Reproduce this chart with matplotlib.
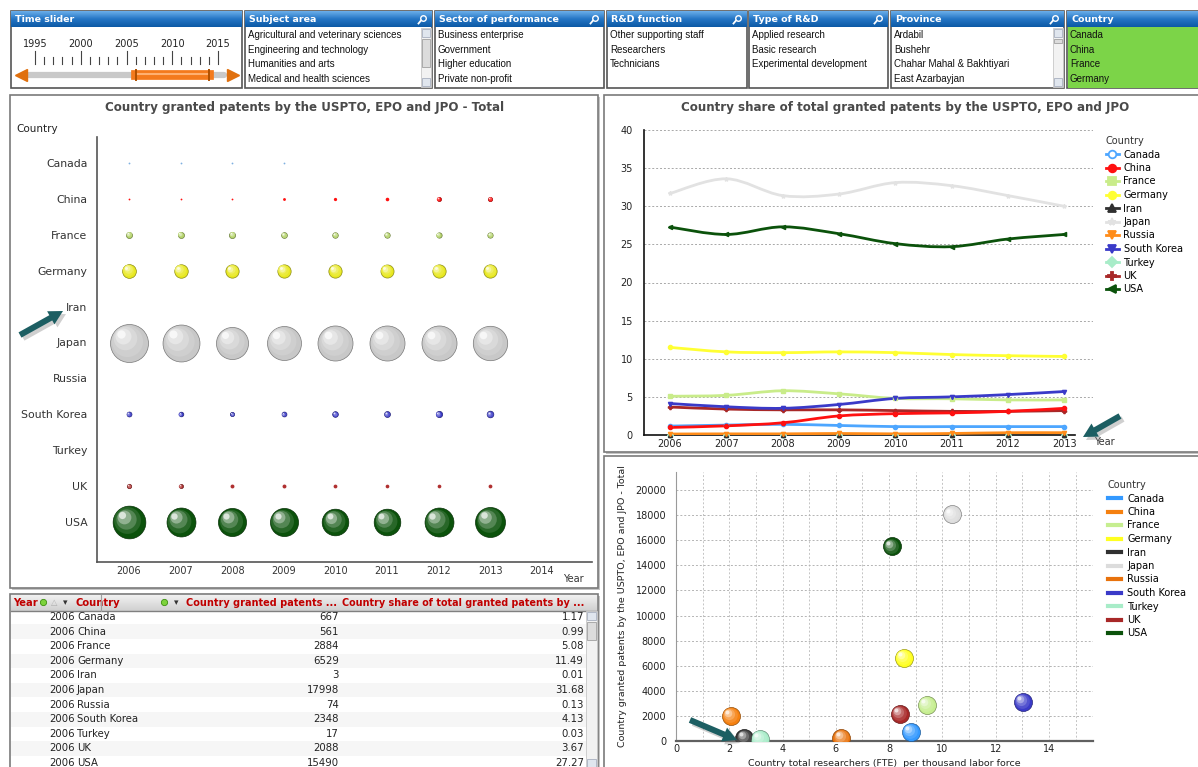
import numpy as np
import matplotlib
matplotlib.use("Agg")
import matplotlib.pyplot as plt
import matplotlib.colors as mcolors
import matplotlib.transforms as mtrans
from matplotlib.patches import Rectangle, FancyArrow, PathPatch
from matplotlib.path import Path
from matplotlib.lines import Line2D
from matplotlib.colors import LinearSegmentedColormap
from matplotlib.ticker import MultipleLocator

plt.rcParams["font.family"] = ["DejaVu Sans"]

W, H = 1198, 767
nan = np.nan

##### DATA
countries = ["Canada", "China", "France", "Germany", "Iran", "Japan",
             "Russia", "South Korea", "Turkey", "UK", "USA"]
years = [2006, 2007, 2008, 2009, 2010, 2011, 2012, 2013]
bubble_xticks = [2006, 2007, 2008, 2009, 2010, 2011, 2012, 2013, 2014]

# granted patents per year (bubble chart)
pat_canada = [667, 700, 760, 650, nan, nan, nan, nan]
pat_china = [561, 680, 850, 1350, 1550, 1700, 1950, 2050]
pat_france = [2884, 2850, 2950, 2750, 2650, 2600, 2550, 2550]
pat_germany = [6529, 6400, 6300, 6300, 6300, 6200, 6300, 6300]
pat_iran = [3, 4, 5, 6, 8, 10, 12, 15]
pat_japan = [17998, 17500, 15200, 16100, 16600, 16600, 16600, 16300]
pat_russia = [74, 80, 85, 100, 95, 110, 150, 160]
pat_korea = [2348, 2200, 2000, 2300, 2700, 2800, 3000, 3150]
pat_turkey = [17, 18, 22, 25, 28, 30, 35, 38]
pat_uk = [2088, 1950, 1850, 1850, 1800, 1750, 1750, 1800]
pat_usa = [15490, 13700, 13300, 13300, 12600, 12600, 13700, 14200]

# share of total granted patents (%) (line chart)
share_canada = [1.17, 1.3, 1.4, 1.25, 1.1, 1.1, 1.1, 1.1]
share_china = [0.99, 1.2, 1.6, 2.5, 2.8, 2.9, 3.1, 3.5]
share_france = [5.08, 5.2, 5.8, 5.4, 4.8, 4.75, 4.6, 4.6]
share_germany = [11.49, 10.9, 10.8, 10.9, 10.8, 10.55, 10.4, 10.3]
share_iran = [0.01, 0.01, 0.01, 0.01, 0.02, 0.02, 0.02, 0.03]
share_japan = [31.68, 33.6, 31.4, 31.6, 33.1, 32.7, 31.4, 30.0]
share_russia = [0.13, 0.15, 0.15, 0.2, 0.15, 0.2, 0.3, 0.3]
share_korea = [4.13, 3.7, 3.5, 4.0, 4.8, 5.0, 5.3, 5.7]
share_turkey = [0.03, 0.03, 0.04, 0.04, 0.05, 0.05, 0.06, 0.06]
share_uk = [3.67, 3.4, 3.3, 3.3, 3.2, 3.1, 3.1, 3.2]
share_usa = [27.27, 26.3, 27.3, 26.4, 25.1, 24.7, 25.7, 26.3]

# researchers vs patents (scatter)
researchers = [8.83, 2.05, 9.42, 8.56, 2.57, 10.37, 6.21, 13.02, 3.14, 8.42, 8.09]
scatter_patents = [720, 1980, 2900, 6600, 240, 18050, 240, 3120, 190, 2140, 15500]

# 2006 table
tab_share = [1.17, 0.99, 5.08, 11.49, 0.01, 31.68, 0.13, 4.13, 0.03, 3.67, 27.27]
tab_patents = [667, 561, 2884, 6529, 3, 17998, 74, 2348, 17, 2088, 15490]

# filter lists
filter_titles = ["Time slider", "Subject area", "Sector of performance",
                 "R&D function", "Type of R&D", "Province", "Country"]
subject_items = ["Agricultural and veterinary sciences", "Engineering and technology",
                 "Humanities and arts", "Medical and health sciences"]
sector_items = ["Business enterprise", "Government", "Higher education", "Private non-profit"]
function_items = ["Other supporting staff", "Researchers", "Technicians"]
type_items = ["Applied research", "Basic research", "Experimental development"]
province_items = ["Ardabil", "Bushehr", "Chahar Mahal & Bakhtiyari", "East Azarbayjan"]
country_items = ["Canada", "China", "France", "Germany"]
slider_years = [1995, 2000, 2005, 2010, 2015]
slider_sel = [2006, 2014]

pats = dict(zip(countries, [pat_canada, pat_china, pat_france, pat_germany, pat_iran,
                            pat_japan, pat_russia, pat_korea, pat_turkey, pat_uk, pat_usa]))
shares = dict(zip(countries, [share_canada, share_china, share_france, share_germany,
                              share_iran, share_japan, share_russia, share_korea,
                              share_turkey, share_uk, share_usa]))

col = {"Canada": "#4da6ff", "China": "#ff1010", "France": "#c9ec8a", "Germany": "#ffff33",
       "Iran": "#303030", "Japan": "#e2e2e2", "Russia": "#ff8c1a", "South Korea": "#3a3ac8",
       "Turkey": "#a8ecc8", "UK": "#a82828", "USA": "#0b520b"}
ball_col = dict(col, France="#b5d46a", Germany="#e8e820", Japan="#c8c8c8",
                Canada="#7fb0e0", UK="#b03030")
sc_col = dict(col, Canada="#3399ff", China="#f5800f", Russia="#e8720c",
              Japan="#dcdcdc", France="#c6ee90", Germany="#ffff20")
markers = {"Canada": "o", "China": "o", "France": "s", "Germany": "o", "Iran": "^",
           "Japan": "*", "Russia": "v", "South Korea": "v", "Turkey": "D", "UK": "P", "USA": "<"}

##### FIGURE
fig = plt.figure(figsize=(W / 100, H / 100), dpi=100)


def rect(x0, y0, x1, y1):
    return [x0 / W, 1 - y1 / H, (x1 - x0) / W, (y1 - y0) / H]


bg = fig.add_axes([0, 0, 1, 1])
bg.axis("off")
hdr_cmap = LinearSegmentedColormap.from_list("hdr", ["#6aaeea", "#2475c4", "#0d5aa6"])
grad = np.linspace(0, 1, 32).reshape(-1, 1)


def panel(x0, y0, x1, y1):
    bg.add_patch(Rectangle((x0 + 2, y0 + 2), x1 - x0, y1 - y0, fc="#c4c4c4", ec="none", zorder=0))
    bg.add_patch(Rectangle((x0, y0), x1 - x0, y1 - y0, fc="white", ec="#7a7a7a", lw=1.2, zorder=1))


# filter boxes
fx = [(11, 242), (245, 432), (435, 604), (607, 747), (749, 888), (891, 1064), (1067, 1199)]
flists = [None, subject_items, sector_items, function_items, type_items, province_items, country_items]
for (x0, x1), title, items in zip(fx, filter_titles, flists):
    bg.add_patch(Rectangle((x0, 11), x1 - x0, 77, fc="white", ec="#555555", lw=1.2, zorder=1))
    bg.imshow(grad, extent=[x0, x1, 27, 11], cmap=hdr_cmap, aspect="auto", zorder=2)
    bg.text(x0 + 4, 19.5, title, color="white", fontsize=6.8, fontweight="bold",
            va="center", ha="left", zorder=3)
    if title not in ("Time slider", "Country"):
        bg.plot([x1 - 9], [18], marker="o", ms=4, mfc="none", mec="white", mew=1, zorder=3)
        bg.plot([x1 - 11, x1 - 13.5], [20.5, 23.5], color="white", lw=1.3, zorder=3)
    if items is None:
        continue
    if title == "Country":
        bg.add_patch(Rectangle((x0 + 1, 27), x1 - x0 - 1, 61, fc="#7cd448", ec="none", zorder=2))
    for i, it in enumerate(items):
        bg.text(x0 + 3, 35 + i * 14.6, it, fontsize=7, family="Liberation Sans",
                va="center", ha="left", color="#111111", zorder=3)

# scrollbars on list boxes
for sx0 in (421, 1053):
    bg.add_patch(Rectangle((sx0, 28), 10, 59, fc="#f2f2f2", ec="#c8c8c8", lw=0.6, zorder=3))
    bg.add_patch(Rectangle((sx0 + 1, 29), 8, 8, fc="#e0e6ee", ec="#a8b0c0", lw=0.6, zorder=3))
    bg.add_patch(Rectangle((sx0 + 1, 78), 8, 8, fc="#e0e6ee", ec="#a8b0c0", lw=0.6, zorder=3))
bg.add_patch(Rectangle((422, 39), 8, 28, fc="#dcdcdc", ec="#a0a0a0", lw=0.6, zorder=3))
bg.add_patch(Rectangle((1054, 39), 8, 4, fc="#dcdcdc", ec="#a0a0a0", lw=0.6, zorder=3))


# time slider
def sx(yr):
    return 35 + (yr - 1995) * 9.15


for yr in slider_years:
    bg.text(sx(yr), 44, str(yr), fontsize=7, ha="center", va="center", color="#222222", zorder=3)
for yr in range(1995, 2016):
    top = 51 if yr % 5 == 0 else 57
    bg.plot([sx(yr), sx(yr)], [top, 64], color="#444444", lw=0.8, zorder=3)
bg.plot([sx(1994.3), sx(2015.7)], [75, 75], color="#c9c9c9", lw=4.5,
        solid_capstyle="round", zorder=3)
bg.plot([sx(slider_sel[0]), sx(slider_sel[1])], [75, 75], color="#f47a1c", lw=7, zorder=4)
bg.plot([sx(slider_sel[0]), sx(slider_sel[1])], [73.5, 73.5], color="#ffb070", lw=1.5, zorder=4)
for yr in slider_sel:
    bg.plot([sx(yr), sx(yr)], [70, 80], color="#b05000", lw=1.4, zorder=4)
bg.plot([21], [75], marker="<", ms=9, color="#e0700e", zorder=4)
bg.plot([233], [75], marker=">", ms=9, color="#e0700e", zorder=4)

# panels
panel(10, 95, 598, 588)
panel(604, 95, 1199, 452)
panel(604, 456, 1199, 768)
panel(10, 594, 598, 768)


def ball(ax, x, y, d, color, z=3):
    base = np.array(mcolors.to_rgb(color))
    pt = d * 0.72
    if d < 4:
        ax.scatter([x], [y], s=pt ** 2, color=base, linewidth=0, zorder=z, clip_on=True)
        return
    ax.scatter([x], [y], s=pt ** 2, color=base, edgecolor=base * 0.6, linewidth=0.5,
               zorder=z, clip_on=True)
    for f, t in [(0.82, 0.12), (0.62, 0.3), (0.42, 0.55), (0.22, 0.85)]:
        sh = (1 - f) * pt * 0.28 / 72
        off = mtrans.ScaledTranslation(-sh, sh, fig.dpi_scale_trans)
        ax.scatter([x], [y], s=(pt * f) ** 2, color=base + (1 - base) * t, linewidth=0,
                   zorder=z + 0.1, clip_on=True, transform=ax.transData + off)


##### BUBBLE CHART
axb = fig.add_axes(rect(97, 137, 592, 562))
axb.patch.set_alpha(0)
axb.set_xlim(2006 - 32 / 51.6, 2006 + 463 / 51.6)
axb.set_ylim(10 + 40 / 35.9, -26 / 35.9)
k = 38.0 / 17998
for j, c in enumerate(countries):
    for yr, v in zip(years, pats[c]):
        if np.isnan(v) or v * k < 1.1:
            continue
        ball(axb, yr, j, max(v * k, 1.8), ball_col[c])
axb.set_yticks(range(len(countries)))
axb.set_yticklabels(countries, fontsize=7.8, color="#333333")
axb.set_xticks(bubble_xticks)
axb.set_xticklabels([str(y) for y in bubble_xticks], fontsize=7, color="#333333")
axb.tick_params(length=0)
axb.tick_params(axis="y", pad=7)
axb.tick_params(axis="x", pad=3)
for s in ("top", "right"):
    axb.spines[s].set_visible(False)
for s in ("left", "bottom"):
    axb.spines[s].set_color("#555555")
    axb.spines[s].set_linewidth(1.2)
bg.text(305, 107, "Country granted patents by the USPTO, EPO and JPO - Total", fontsize=8.6,
        fontweight="bold", color="#4a4a4a", ha="center", va="center", zorder=3)
bg.text(16, 129, "Country", fontsize=7.5, color="#222222", ha="left", va="center", zorder=3)
bg.text(573, 579, "Year", fontsize=7, color="#333333", ha="center", va="center", zorder=3)


def smooth(ax, xs, ys, color, lw):
    p = np.column_stack([xs, ys]).astype(float)
    verts = [tuple(p[0])]
    codes = [Path.MOVETO]
    n = len(p)
    for i in range(n - 1):
        p0, p1, p2 = p[max(i - 1, 0)], p[i], p[i + 1]
        p3 = p[min(i + 2, n - 1)]
        verts += [tuple(p1 + (p2 - p0) / 6), tuple(p2 - (p3 - p1) / 6), tuple(p2)]
        codes += [Path.CURVE4] * 3
    ax.add_patch(PathPatch(Path(verts, codes), fc="none", ec=color, lw=lw,
                           capstyle="round", zorder=3))


##### LINE CHART
axl = fig.add_axes(rect(644, 130, 1093, 435))
axl.patch.set_alpha(0)
axl.set_xlim(2006 - 26 / 56.3, 2006 + 423 / 56.3)
axl.set_ylim(0, 40)
axl.set_yticks(range(0, 41, 5))
axl.set_xticks(years)
axl.tick_params(length=0, labelsize=7, colors="#222222")
axl.tick_params(axis="y", pad=8)
axl.tick_params(axis="x", pad=3)
axl.yaxis.grid(True, ls=(0, (2, 2)), color="#a8a8a8", lw=0.7)
axl.set_axisbelow(True)
for s in ("top", "right"):
    axl.spines[s].set_visible(False)
for s in ("left", "bottom"):
    axl.spines[s].set_color("#111111")
    axl.spines[s].set_linewidth(1.2)
axl.spines["bottom"].set_bounds(2006 - 26 / 56.3, 2013.2)
draw_order = ["Turkey", "Iran", "Russia", "Canada", "UK", "China", "France",
              "South Korea", "Germany", "Japan", "USA"]
for c in draw_order:
    smooth(axl, years, shares[c], col[c], 2.0)
    axl.plot(years, shares[c], ls="none", marker=markers[c], ms=3, color=col[c],
             zorder=4, clip_on=False)
handles = [Line2D([], [], color=col[c], lw=2, marker=markers[c], ms=5.5,
                  mfc=("white" if c == "Canada" else col[c]), mec=col[c], mew=1.3)
           for c in countries]
leg = axl.legend(handles, countries, loc="upper left", bbox_to_anchor=(1106 / W, 1 - 136 / H),
                 bbox_transform=fig.transFigure, frameon=False, title="Country",
                 fontsize=7, title_fontsize=7, handlelength=1.3, handletextpad=0.5,
                 labelspacing=0.36, borderaxespad=0, borderpad=0)
leg._legend_box.align = "left"
leg.get_title().set_color("#333333")
bg.text(905, 107, "Country share of total granted patents by the USPTO, EPO and JPO",
        fontsize=8.6, fontweight="bold", color="#4a4a4a", ha="center", va="center", zorder=3)
bg.text(1104, 442, "Year", fontsize=7, color="#333333", ha="center", va="center", zorder=3)

##### SCATTER
axs = fig.add_axes(rect(676, 472, 1093, 741))
axs.patch.set_alpha(0)
axs.set_xlim(0, 417 / 26.64)
axs.set_ylim(0, 269 / 12.55 * 1000)
axs.set_xticks(range(0, 15, 2))
axs.xaxis.set_minor_locator(MultipleLocator(1))
axs.set_yticks(range(0, 20001, 2000))
axs.grid(True, which="both", axis="x", ls=(0, (2, 2)), color="#c4c4c4", lw=0.7)
axs.grid(True, which="major", axis="y", ls=(0, (2, 2)), color="#b4b4b4", lw=0.7)
axs.set_axisbelow(True)
axs.tick_params(which="both", length=0, labelsize=7, colors="#222222")
axs.tick_params(axis="y", pad=7)
axs.tick_params(axis="x", pad=2)
for s in ("top", "right"):
    axs.spines[s].set_visible(False)
axs.spines["bottom"].set_color("#606060")
axs.spines["bottom"].set_linewidth(1.6)
axs.spines["left"].set_color("#9a9a9a")
axs.spines["left"].set_linewidth(0.8)
for c, xv, yv in zip(countries, researchers, scatter_patents):
    ball(axs, xv, yv, 18, sc_col[c])
axs.set_xlabel("Country total researchers (FTE)  per thousand labor force", fontsize=6.8,
               color="#222222", labelpad=4)
axs.set_ylabel("Country granted patents by the USPTO, EPO and JPO - Total", fontsize=6.8,
               color="#222222", labelpad=6)
sh = [Line2D([], [], color=sc_col[c], lw=3) for c in countries]
leg2 = axs.legend(sh, countries, loc="upper left", bbox_to_anchor=(1108 / W, 1 - 480 / H),
                  bbox_transform=fig.transFigure, frameon=False, title="Country",
                  fontsize=7, title_fontsize=7, handlelength=1.3, handletextpad=0.7,
                  labelspacing=0.36, borderaxespad=0, borderpad=0)
leg2._legend_box.align = "left"
leg2.get_title().set_color("#333333")

##### TABLE
hdr2 = LinearSegmentedColormap.from_list("th", ["#f0f0f0", "#d0d0d0"])
bg.imshow(grad, extent=[11, 597, 611, 595], cmap=hdr2, aspect="auto", zorder=2)
bg.plot([11, 597], [611, 611], color="#808080", lw=1, zorder=3)
red = "#c00000"
bg.text(13, 603, "Year", fontsize=7.2, fontweight="bold", color=red, va="center", zorder=4)
bg.plot([43], [602], marker="o", ms=4.5, mfc="#7dd33c", mec="#3d8f10", mew=0.6, zorder=4)
bg.text(51, 603, "\u25b3", fontsize=6, color="#b0b0b0", va="center", zorder=4)
bg.text(63, 603, "\u25be", fontsize=6.5, color="#333333", va="center", zorder=4)
bg.text(76, 603, "Country", fontsize=7.2, fontweight="bold", color=red, va="center", zorder=4)
bg.plot([101, 101], [595, 611], color="#a0a0a0", lw=0.8, zorder=4)
bg.plot([164], [602], marker="o", ms=4.5, mfc="#7dd33c", mec="#3d8f10", mew=0.6, zorder=4)
bg.text(174, 603, "\u25be", fontsize=6.5, color="#333333", va="center", zorder=4)
bg.text(186, 603, "Country granted patents ...", fontsize=7.0, fontweight="bold", color=red,
        va="center", zorder=4)
bg.text(342, 603, "Country share of total granted patents by ...", fontsize=6.95,
        fontweight="bold", color=red, va="center", zorder=4)
for i, c in enumerate(countries):
    yy = 617 + i * 14.6
    if i % 2 == 1:
        bg.add_patch(Rectangle((11, yy - 7.3), 575, 14.6, fc="#f6f6f6", ec="none", zorder=2))
    bg.text(75, yy, str(years[0]), fontsize=7.3, ha="right", va="center", color="#222222", zorder=4)
    bg.text(77, yy, c, fontsize=7.3, ha="left", va="center", color="#222222", zorder=4)
    bg.text(339, yy, str(tab_patents[i]), fontsize=7.3, ha="right", va="center",
            color="#222222", zorder=4)
    bg.text(584, yy, "%.2f" % tab_share[i], fontsize=7.3, ha="right", va="center",
            color="#222222", zorder=4)
bg.add_patch(Rectangle((586, 611), 11, 156, fc="#f2f2f2", ec="#c8c8c8", lw=0.6, zorder=3))
bg.add_patch(Rectangle((587, 612), 9, 8, fc="#e0e6ee", ec="#a8b0c0", lw=0.6, zorder=3))
bg.add_patch(Rectangle((587, 622), 9, 18, fc="#dcdcdc", ec="#a0a0a0", lw=0.6, zorder=3))
bg.add_patch(Rectangle((587, 759), 9, 8, fc="#e0e6ee", ec="#a8b0c0", lw=0.6, zorder=3))

bg.set_xlim(0, W)
bg.set_ylim(H, 0)

##### CALLOUT ARROWS
fg = fig.add_axes([0, 0, 1, 1], zorder=10)
fg.axis("off")
fg.set_xlim(0, W)
fg.set_ylim(H, 0)
callouts = [((20, 335), (63, 311)), ((1120, 416), (1083, 437)), ((690, 720), (737, 740))]
for (tx, ty), (hx, hy) in callouts:
    fg.add_patch(FancyArrow(tx + 3, ty + 3, hx - tx, hy - ty, width=6, head_width=15,
                            head_length=14, length_includes_head=True, fc="#777777",
                            ec="none", alpha=0.35))
    fg.add_patch(FancyArrow(tx, ty, hx - tx, hy - ty, width=6, head_width=15,
                            head_length=14, length_includes_head=True, fc="#1c5e62",
                            ec="none"))

fig.savefig("out.png", dpi=100)
